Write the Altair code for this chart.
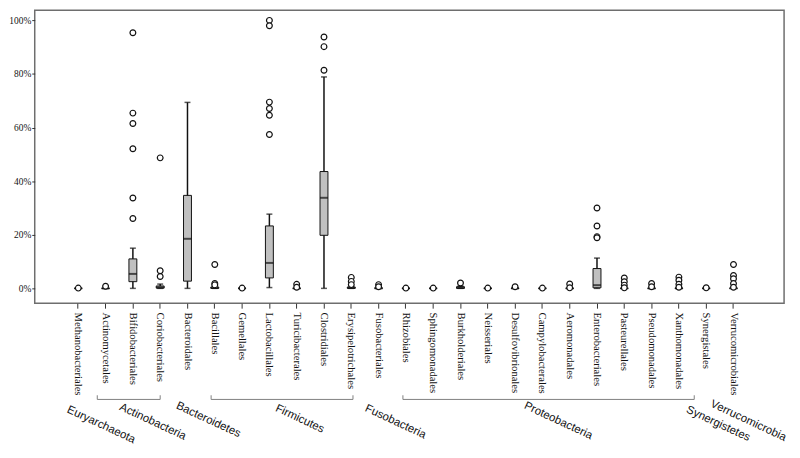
import altair as alt
import pandas as pd

# ---------------- data ----------------
orders = ["Methanobacteriales", "Actinomycetales", "Bifidobacteriales", "Coriobacteriales",
          "Bacteroidales", "Bacillales", "Gemellales", "Lactobacillales", "Turicibacterales",
          "Clostridiales", "Erysipelotrichales", "Fusobacteriales", "Rhizobiales",
          "Sphingomonadales", "Burkholderiales", "Neisseriales", "Desulfovibrionales",
          "Campylobacterales", "Aeromonadales", "Enterobacteriales", "Pasteurellales",
          "Pseudomonadales", "Xanthomonadales", "Synergistales", "Verrucomicrobiales"]

phylum_of_order = ["Euryarchaeota", "Actinobacteria", "Actinobacteria", "Actinobacteria",
                   "Bacteroidetes", "Firmicutes", "Firmicutes", "Firmicutes", "Firmicutes",
                   "Firmicutes", "Firmicutes", "Fusobacteria", "Proteobacteria",
                   "Proteobacteria", "Proteobacteria", "Proteobacteria", "Proteobacteria",
                   "Proteobacteria", "Proteobacteria", "Proteobacteria", "Proteobacteria",
                   "Proteobacteria", "Proteobacteria", "Synergistetes", "Verrucomicrobia"]

phyla = ["Euryarchaeota", "Actinobacteria", "Bacteroidetes", "Firmicutes",
         "Fusobacteria", "Proteobacteria", "Synergistetes", "Verrucomicrobia"]

# box statistics (percent)
q1 = [0, 0, 2.5, 0.1, 2.7, 0, 0, 3.9, 0, 19.8, 0, 0, 0, 0, 0, 0, 0, 0, 0, 0.2, 0, 0, 0, 0, 0]
median = [0, 0, 5.4, 0.4, 18.5, 0.2, 0, 9.5, 0, 33.8, 0.2, 0, 0, 0, 0.3, 0, 0, 0, 0, 1.2, 0, 0, 0, 0, 0]
q3 = [0, 0, 11.0, 0.9, 34.7, 0.5, 0, 23.3, 0, 43.6, 0.5, 0.2, 0, 0, 0.6, 0, 0.1, 0, 0, 7.4, 0, 0, 0.1, 0, 0.1]
whisker_lo = [0, 0, 0, 0, 0, 0, 0, 0.3, 0, 0, 0, 0, 0, 0, 0, 0, 0, 0, 0, 0, 0, 0, 0, 0, 0]
whisker_hi = [0, 0, 15.0, 1.6, 69.4, 1.0, 0, 27.7, 0, 78.9, 0.8, 0.3, 0, 0, 0.9, 0, 0.2, 0, 0, 11.3, 0, 0, 0.2, 0, 0.2]

outliers = {
    "Methanobacteriales": [0.1],
    "Actinomycetales": [0.8],
    "Bifidobacteriales": [95.4, 65.4, 61.5, 52.1, 33.7, 26.1],
    "Coriobacteriales": [48.7, 6.6, 4.4],
    "Bacteroidales": [],
    "Bacillales": [8.9, 1.8, 1.3],
    "Gemellales": [0.1],
    "Lactobacillales": [100.0, 98.0, 69.5, 67.1, 64.6, 57.4],
    "Turicibacterales": [1.5, 0.4],
    "Clostridiales": [93.8, 90.2, 81.4],
    "Erysipelotrichales": [4.1, 2.6, 1.4],
    "Fusobacteriales": [1.4, 0.6],
    "Rhizobiales": [0.1],
    "Sphingomonadales": [0.1],
    "Burkholderiales": [2.0],
    "Neisseriales": [0.1],
    "Desulfovibrionales": [0.6],
    "Campylobacterales": [0.1],
    "Aeromonadales": [1.6, 0.2],
    "Enterobacteriales": [30.0, 23.3, 19.3, 18.9],
    "Pasteurellales": [3.9, 2.5, 1.2, 0.2],
    "Pseudomonadales": [1.8, 0.6],
    "Xanthomonadales": [4.2, 3.0, 1.5, 0.4],
    "Synergistales": [0.2],
    "Verrucomicrobiales": [8.9, 4.8, 3.6, 1.8, 0.4],
}

y_ticks = [0, 20, 40, 60, 80, 100]

# ---------------- layout / style (not data) ----------------
SERIF = "Liberation Serif"
SANS = "Liberation Sans"
PAD_LEFT = 27
PLOT_W = 757
PLOT_H = 296
# phylum label placement: anchor order, x offset px, y px
label_style = {
    "Euryarchaeota": ("Methanobacteriales", 23, 419),
    "Actinobacteria": ("Bifidobacteriales", 20, 416),
    "Bacteroidetes": ("Bacteroidales", 21, 414),
    "Firmicutes": ("Turicibacterales", 3, 413),
    "Fusobacteria": ("Fusobacteriales", 17, 416),
    "Proteobacteria": ("Campylobacterales", 16, 415),
    "Synergistetes": ("Synergistales", 12, 418),
    "Verrucomicrobia": ("Verrucomicrobiales", 15, 415),
}
bracket_style = {
    "Actinobacteria": (-8.4, 0.0),
    "Firmicutes": (-3.7, 1.7),
    "Proteobacteria": (-3.0, 15.5),
}
BRACKET_Y = 393.2
BRACKET_TOP = 389.0

# ---------------- tables ----------------
box_df = pd.DataFrame({"order": orders, "phylum": phylum_of_order, "q1": q1,
                       "median": median, "q3": q3, "lo": whisker_lo, "hi": whisker_hi})
out_df = pd.DataFrame([{"order": o, "value": v} for o in orders for v in outliers[o]])

x_scale = alt.Scale(domain=orders, range=[40, 709.9], paddingInner=0.71, paddingOuter=0)
x_axis = alt.Axis(title=None, labelAngle=90, labelFont=SERIF, labelFontSize=10.7,
                  labelColor="#111", tickColor="#333", tickSize=5, tickWidth=1,
                  domain=False, labelPadding=4)
X = alt.X("order:N", scale=x_scale, axis=x_axis, sort=orders)
y_scale = alt.Scale(domain=[-5.54, 103.8], nice=False, zero=False)
y_axis = alt.Axis(title=None, values=y_ticks, labelExpr="datum.value + '%'", grid=False,
                  domain=False, tickSize=3, tickColor="#333", labelFont=SERIF,
                  labelFontSize=9.5, labelColor="#111", labelPadding=1)

base = alt.Chart(box_df)
whisk = base.mark_rule(color="#111", strokeWidth=1.5).encode(
    x=X, y=alt.Y("lo:Q", scale=y_scale, axis=y_axis), y2="hi:Q")
cap_lo = base.mark_tick(color="#111", size=6, thickness=1.5).encode(x=X, y="lo:Q")
cap_hi = base.mark_tick(color="#111", size=6, thickness=1.5).encode(x=X, y="hi:Q")
box = base.mark_bar(fill="#c0c0c0", stroke="#111", strokeWidth=1).encode(
    x=X, y="q1:Q", y2="q3:Q")
med = base.mark_tick(color="#111", size=8, thickness=2).encode(x=X, y="median:Q")
pts = alt.Chart(out_df).mark_point(shape="circle", filled=True, fill="white",
                                   stroke="#111", strokeWidth=1.2, size=34, opacity=1).encode(
    x=X, y="value:Q")

layers = [whisk, box, med, cap_lo, cap_hi, pts]

# brackets for multi-order phyla
for ph, (off_l, off_r) in bracket_style.items():
    members = [o for o, p in zip(orders, phylum_of_order) if p == ph]
    bdf = pd.DataFrame({"order": [members[0]], "order_end": [members[-1]], "phylum": [ph]})
    bc = alt.Chart(bdf)
    layers.append(bc.mark_rule(color="#808080", strokeWidth=1, xOffset=off_l, x2Offset=off_r).encode(
        x=X, x2="order_end:N", y=alt.value(BRACKET_Y)))
    layers.append(bc.mark_rule(color="#808080", strokeWidth=1, xOffset=off_l).encode(
        x=X, y=alt.value(BRACKET_TOP), y2=alt.value(BRACKET_Y)))
    edf = pd.DataFrame({"order": [members[-1]]})
    layers.append(alt.Chart(edf).mark_rule(color="#808080", strokeWidth=1, xOffset=off_r).encode(
        x=X, y=alt.value(BRACKET_TOP), y2=alt.value(BRACKET_Y)))

# phylum labels
for ph in phyla:
    anchor, dx, ypx = label_style[ph]
    ldf = pd.DataFrame({"order": [anchor], "phylum": [ph]})
    layers.append(alt.Chart(ldf).mark_text(angle=25, align="center", baseline="middle",
                                           font=SANS, fontSize=11.5, color="#111",
                                           xOffset=dx).encode(
        x=X, y=alt.value(ypx), text="phylum:N"))

chart = alt.layer(*layers).properties(
    width=PLOT_W, height=PLOT_H,
    autosize=alt.AutoSizeParams(type="none"),
    padding={"left": PAD_LEFT, "top": 0, "right": 8, "bottom": 141},
).configure_view(stroke="#6e6e6e", strokeWidth=1.5)

chart.save("out.html", embed_options={"renderer": "svg", "actions": False})
